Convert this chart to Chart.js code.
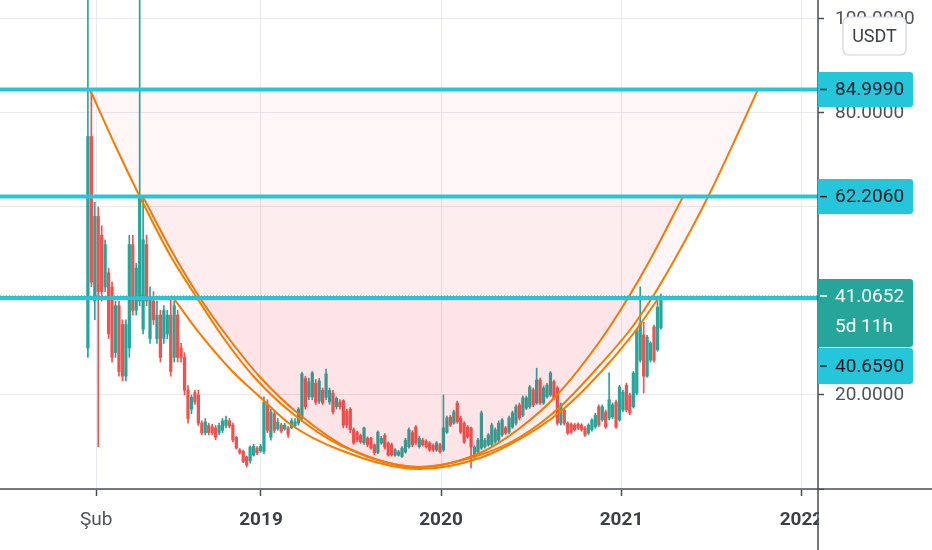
<!DOCTYPE html>
<html>
<head>
<meta charset="utf-8">
<script src="https://cdn.jsdelivr.net/npm/chart.js@4.4.1/dist/chart.umd.min.js"></script>
<style>
  html, body { margin: 0; padding: 0; background: #fff; }
  #wrap { width: 932px; height: 550px; }
</style>
</head>
<body>
<div id="wrap"><canvas id="chart" width="932" height="550"></canvas></div>
<script>
// Weekly candles, index 0 = week of 15 Jan 2018
const opens = [
  30, 75, 40, 58, 54, 43, 46, 43, 29, 39, 35, 24, 30, 52, 38, 40, 34, 52, 32, 40,
  32, 37, 32, 33, 37, 28, 37, 30, 28, 21, 17, 20.5, 20, 14, 12, 13.5, 13.2, 13, 12, 12.5,
  13.5, 14.5, 13.6, 11, 8.3, 8, 6.8, 6, 7.2, 8.7, 8.1, 8, 18, 11, 16, 12.8, 13.6, 12.8, 13, 13,
  13.5, 14, 15, 23.5, 19.6, 19.6, 22.5, 18.7, 21, 19.5, 18.5, 20.4, 17.5, 18.5, 18.8, 16.5, 17, 12.6, 12, 11.4,
  9.8, 10.8, 10.8, 9.4, 7.8, 9.8, 11.4, 9.8, 9.4, 7.2, 7.2, 6.9, 7.9, 9, 12, 13.2, 9, 10.4, 10.2, 9.8,
  9.3, 8.3, 9.4, 8.3, 12.1, 15.3, 14, 18.3, 15.1, 14, 13.2, 13, 6.8, 7.9, 8.7, 9, 9.4, 9.4, 10, 10.4,
  11.5, 13, 12.1, 13.2, 14, 17.9, 15.7, 17.2, 17.5, 21.1, 18.3, 23.2, 18.3, 19.6, 20, 22.8, 21.5, 14, 16.8, 14,
  13.8, 13.6, 13.8, 13.6, 13, 11.9, 12.6, 13.2, 17.5, 14.7, 16.4, 15.1, 15.3, 18.5, 14.7, 16.8, 22.1, 20, 17.5, 20.4,
  27.4, 32.8, 24, 27.4, 34.5, 29.6, 34.3
];
const highs = [
  120, 85, 61, 60, 56, 53, 47, 44, 40, 40, 36, 36, 54, 54, 48, 120, 62.2, 54, 43, 42,
  40, 38, 39, 38, 41, 40, 38, 31, 29, 22, 20, 21, 21, 14.5, 15, 14, 13.8, 13.5, 14, 15,
  15.5, 15, 14, 11.2, 8.6, 8.3, 7, 9.2, 9.5, 9, 9.5, 19.6, 19, 17, 16.5, 15, 14, 14, 13.3, 15,
  15, 17.3, 24.9, 24, 23.6, 25, 23.3, 23.5, 21.5, 25.5, 21.5, 21, 19.6, 19, 19, 17, 17.3, 13, 12.3, 11.7,
  13.2, 11.1, 11, 9.6, 12.4, 11.2, 11.8, 10, 9.8, 8.6, 8.2, 9, 10.8, 13, 12.4, 13.5, 11.2, 10.8, 10.5, 10.1,
  9.6, 10.1, 9.7, 20, 15.5, 15.7, 16.8, 18.7, 15.5, 14.3, 13.5, 13.2, 9.2, 10.8, 16.6, 10.8, 11.8, 14, 13, 14.5,
  15, 13.3, 15.5, 16.6, 17.9, 18.3, 19.8, 19.8, 22, 21.5, 25.7, 23.6, 21.9, 22.5, 25, 23.2, 21.9, 18.3, 17.2, 14.3,
  14.1, 14, 14.1, 13.9, 13.3, 13.9, 15, 16.1, 17.9, 17.9, 16.8, 24.7, 18.3, 18.9, 22.1, 21, 22.5, 20.4, 25, 34.2,
  43, 35.5, 32.7, 31.3, 34.9, 40.6, 41.5
];
const lows = [
  28, 43, 36, 9, 40, 42, 32, 27, 28, 24, 23, 23, 28, 37, 37, 39, 33, 39, 31, 35,
  31, 27, 31, 32, 24, 27, 27, 27, 20, 14, 16, 18, 13.5, 11.5, 11.5, 11.5, 11.5, 10.5, 11.5, 12,
  13, 13, 10, 8.5, 7.4, 5.6, 4.7, 5.5, 7, 7.3, 7.8, 7.5, 12, 10.4, 12, 12.5, 12, 12.5, 11, 12.8,
  13, 13.6, 14.3, 17, 19, 19, 18, 18.2, 18, 19, 18, 16, 17, 17, 13, 13, 12, 9.5, 10, 9.7,
  9.5, 9, 8.5, 7.3, 7.5, 9.5, 8.5, 7, 7, 7, 7, 6.7, 7.6, 8.7, 9, 9.5, 8.7, 9.1, 8.7, 8,
  8, 8, 7.6, 8, 11.8, 13.3, 13.8, 14, 11.8, 9.7, 10.8, 4.5, 6.4, 7.6, 8.4, 8.7, 9.1, 9.1, 9.7, 10,
  11.2, 11.6, 11.8, 12.9, 13.6, 14.7, 15.4, 16.9, 17.2, 17.5, 18, 18, 18, 19.3, 19.7, 19, 13.6, 13.6, 13.6, 11.6,
  11.8, 12.3, 12.6, 12.3, 11.2, 11.6, 12.3, 12.9, 13.3, 14.4, 12.9, 14.7, 15, 12.9, 14.4, 16.4, 16.4, 15.8, 17.2, 20,
  27, 20.4, 23.8, 27, 27, 29.3, 34
];
const closes = [
  75, 44, 58, 42, 42, 52, 33, 28, 39, 25, 24, 35, 52, 38, 47, 62, 53, 40, 41, 36,
  37, 28, 38, 37, 25, 39, 28, 28, 21, 15, 19.5, 18.5, 14, 12, 14.3, 12, 12, 11, 13.5, 14.5,
  14.7, 13.4, 10.4, 8.7, 7.7, 5.9, 5.1, 8.9, 9.1, 7.7, 9.1, 18.5, 12.5, 16.4, 12.5, 14.2, 12.3, 13.6, 11.6, 14.5,
  14.3, 17, 24.5, 17.5, 22.8, 24.7, 18.5, 23, 18.3, 24.5, 21, 16.4, 19.3, 17.5, 13.6, 13.6, 12.6, 9.8, 10.4, 10,
  13, 9.4, 8.7, 7.7, 12.1, 10.8, 8.9, 7.2, 7.3, 8.3, 7.9, 8.7, 10.4, 12.6, 9.4, 9.8, 10.8, 9.4, 9, 8.3,
  8.3, 9.8, 7.9, 13, 15.1, 13.6, 16.4, 14.3, 12.1, 10, 11.1, 8.9, 8.9, 10.4, 16.2, 10.4, 11.5, 13.6, 12.6, 14,
  14.7, 11.9, 15.1, 16.2, 17.5, 15.1, 19.4, 19.4, 21.7, 17.9, 23.2, 18.3, 21.5, 22.1, 24.7, 19.4, 14, 17.9, 14, 11.9,
  12.1, 12.6, 13, 12.6, 11.5, 13.6, 14.7, 15.7, 13.6, 17.5, 13.2, 19, 17.9, 13.2, 21.7, 20.6, 16.8, 16.2, 24.7, 33.8,
  35.3, 24, 32.3, 31, 27.4, 38.7, 41.0652
];

// Cup curves drawn on the chart (week, price)
const cupAWeeks = [0.6, 7.85, 15.09, 23.78, 31.61, 39.71, 48.41, 59.12, 73.03, 95.63, 113.58, 125.17, 136.76, 148.32, 157.02, 163.39, 171.5, 179.61, 187.43, 194.09];
const cupAPrices = [84.999, 73.19, 62.13, 49.79, 40.64, 31.7, 23.62, 16.17, 9.36, 4.68, 7.23, 11.06, 17.45, 26.38, 33.83, 40.64, 50.85, 62.13, 74.26, 84.999];
const cupBWeeks = [15.95, 23.78, 32.47, 41.16, 49.85, 61.44, 75.92, 96.2, 113.58, 125.17, 135.89, 148.35, 156.46, 162.83, 172.39];
const cupBPrices = [62.206, 51.28, 40.64, 31.7, 23.83, 15.74, 8.51, 4.68, 7.66, 12.98, 20.0, 31.49, 40.64, 48.72, 62.206];
const cupCWeeks = [24.36, 32.47, 42.03, 49.85, 58.54, 73.03, 96.2, 113.58, 125.17, 136.76, 148.35, 157.04, 165.73];
const cupCPrices = [41.0652, 32.98, 24.89, 19.57, 13.83, 8.3, 4.26, 6.6, 10.64, 16.38, 24.68, 32.13, 41.0652];

// Horizontal levels and price
const levelPrices = [84.999, 62.206, 40.659];
const lastPrice = 41.0652;
const countdown = '5d 11h';
const quoteLabel = 'USDT';

// Time axis
const tickWeeks = [2.43, 50.14, 102.29, 154.57, 206.71];
const tickLabels = ['Şub', '2019', '2020', '2021', '2022'];
const xMin = -25.46;
const xMax = 211.5;
const yMax = 104.04;

const GREEN = '#26a69a';
const RED = '#ef5350';
const CYAN = '#26c6da';
const ORANGE = '#f57c00';
const CUP_FILL = 'rgba(242, 54, 69, 0.045)';

const candleColors = opens.map((o, i) => (closes[i] >= o ? GREEN : RED));

function pts(xs, ys) {
  return xs.map((x, i) => ({ x: x, y: ys[i] }));
}

function cupDataset(xs, ys, top) {
  return {
    type: 'line',
    data: pts(xs, ys),
    borderColor: ORANGE,
    borderWidth: 2,
    pointRadius: 0,
    cubicInterpolationMode: 'monotone',
    fill: { value: top },
    backgroundColor: CUP_FILL,
    order: 3,
  };
}

const datasets = [
  {
    type: 'bar',
    data: lows.map((l, i) => ({ x: i, y: [l, highs[i]] })),
    backgroundColor: candleColors,
    barThickness: 1,
    grouped: false,
    order: 10,
  },
  {
    type: 'bar',
    data: opens.map((o, i) => ({ x: i, y: [o, closes[i]] })),
    backgroundColor: candleColors,
    barThickness: 2.6,
    minBarLength: 1,
    grouped: false,
    order: 9,
  },
  cupDataset(cupAWeeks, cupAPrices, levelPrices[0]),
  cupDataset(cupBWeeks, cupBPrices, levelPrices[1]),
  cupDataset(cupCWeeks, cupCPrices, lastPrice),
  {
    type: 'line',
    data: [{ x: xMin, y: lastPrice }, { x: xMax, y: lastPrice }],
    borderColor: GREEN,
    borderWidth: 1,
    borderDash: [1, 2],
    pointRadius: 0,
    order: 1,
  },
];
levelPrices.forEach(function (p) {
  datasets.push({
    type: 'line',
    data: [{ x: xMin, y: p }, { x: xMax, y: p }],
    borderColor: CYAN,
    borderWidth: 4,
    pointRadius: 0,
    order: 2,
  });
});

// price scale badges, axis lines and the quote currency button
const overlay = {
  id: 'overlay',
  afterDraw(chart) {
    const ctx = chart.ctx;
    const area = chart.chartArea;
    const y = chart.scales.y;
    ctx.save();

    ctx.fillStyle = '#ffffff';
    ctx.fillRect(area.right + 1, area.bottom + 1, chart.width - area.right, chart.height - area.bottom);

    ctx.strokeStyle = '#4a4e59';
    ctx.lineWidth = 1.5;
    ctx.beginPath();
    ctx.moveTo(0, area.bottom);
    ctx.lineTo(chart.width, area.bottom);
    ctx.moveTo(area.right, 0);
    ctx.lineTo(area.right, chart.height);
    ctx.stroke();

    const bx = area.right;
    const bw = 95;
    const tx = area.right + 17;
    ctx.font = '19px Roboto';
    ctx.textBaseline = 'middle';
    ctx.textAlign = 'left';

    function badge(top, h, bg, fg, lines, dashY) {
      ctx.fillStyle = bg;
      ctx.beginPath();
      ctx.roundRect(bx, top, bw, h, [0, 3, 3, 0]);
      ctx.fill();
      ctx.fillStyle = fg;
      lines.forEach(function (l) { ctx.fillText(l[0], tx, l[1]); });
      ctx.strokeStyle = fg;
      ctx.lineWidth = 1.5;
      ctx.beginPath();
      ctx.moveTo(bx + 2, dashY);
      ctx.lineTo(bx + 9, dashY);
      ctx.stroke();
    }

    [levelPrices[0], levelPrices[1]].forEach(function (p) {
      const py = y.getPixelForValue(p);
      badge(py - 17.5, 35, CYAN, '#131722', [[p.toFixed(4), py + 1]], py);
    });

    const lp = y.getPixelForValue(lastPrice);
    const lpTop = lp - 17;
    badge(lpTop, 68, GREEN, '#ffffff', [[lastPrice.toFixed(4), lp + 1], [countdown, lp + 31]], lp);
    const l3Top = lpTop + 69;
    badge(l3Top, 36, CYAN, '#131722', [[levelPrices[2].toFixed(4), l3Top + 19]], l3Top + 18);

    // quote currency button
    ctx.fillStyle = '#ffffff';
    ctx.strokeStyle = '#d1d4dc';
    ctx.lineWidth = 1.2;
    ctx.beginPath();
    ctx.roundRect(843, 17, 63, 38, 6);
    ctx.fill();
    ctx.stroke();
    ctx.fillStyle = '#3c3f47';
    ctx.font = '18px Roboto';
    ctx.textAlign = 'center';
    ctx.fillText(quoteLabel, 874.5, 37);
    ctx.restore();
  },
};

Chart.defaults.font.family = 'Roboto';

new Chart(document.getElementById('chart').getContext('2d'), {
  type: 'bar',
  data: { datasets: datasets },
  options: {
    responsive: false,
    animation: false,
    layout: { padding: 0 },
    plugins: {
      legend: { display: false },
      tooltip: { enabled: false },
    },
    scales: {
      x: {
        type: 'linear',
        min: xMin,
        max: xMax,
        offset: false,
        grid: {
          offset: false,
          color: '#e9ebf0',
          tickLength: 7,
          tickColor: '#4a4e59',
          tickWidth: 1.5,
        },
        border: { display: false },
        afterBuildTicks: function (scale) {
          scale.ticks = tickWeeks.map(function (v) { return { value: v }; });
        },
        afterFit: function (scale) {
          scale.height = 61;
          scale.paddingLeft = 0;
          scale.paddingRight = 0;
        },
        ticks: {
          autoSkip: false,
          maxRotation: 0,
          padding: 13,
          callback: function (value, index) { return tickLabels[index]; },
          color: function (c) { return c.index === 0 ? '#50535e' : '#3d3f46'; },
          font: function (c) { return { size: 19, weight: c.index === 0 ? 'normal' : 'bold' }; },
        },
      },
      y: {
        type: 'linear',
        position: 'right',
        min: 0,
        max: yMax,
        grid: {
          color: '#e9ebf0',
          tickLength: 6,
          tickColor: '#4a4e59',
          tickWidth: 1.5,
        },
        border: { display: false },
        afterFit: function (scale) {
          scale.width = 114;
          scale.paddingTop = 0;
          scale.paddingBottom = 0;
        },
        ticks: {
          stepSize: 20,
          includeBounds: false,
          padding: 11,
          color: '#50535e',
          font: { size: 19 },
          callback: function (v) { return v === 0 ? '' : v.toFixed(4); },
        },
      },
    },
  },
  plugins: [overlay],
});
</script>
</body>
</html>
